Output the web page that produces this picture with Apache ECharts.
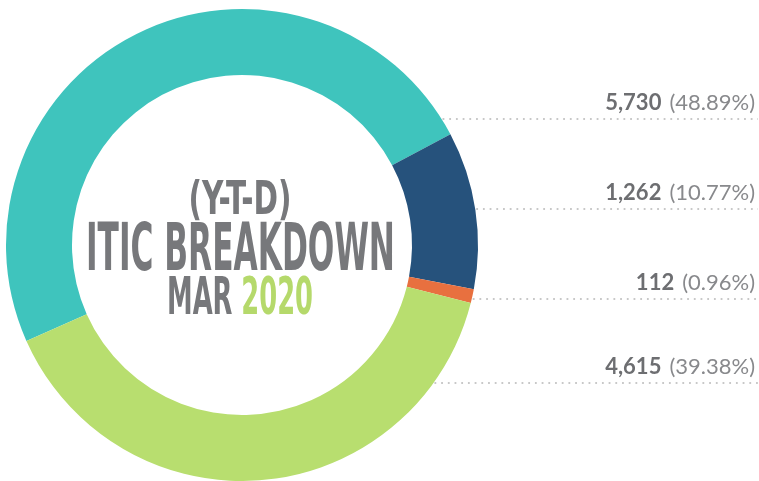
<!DOCTYPE html>
<html>
<head>
<meta charset="utf-8">
<script src="https://cdn.jsdelivr.net/npm/echarts@6/dist/echarts.min.js"></script>
<style>
    html, body {margin:0;padding:0;background:#fff}
    #chart {width:759px;height:481px}
</style>
</head>
<body>
<div id="chart"></div>
<script>
    // data
    var names = ['Teal', 'Blue', 'Orange', 'Green'];
    var values = [5730, 1262, 112, 4615];
    var colors = ['#3fc4bd', '#26527c', '#e8703f', '#b8de6f'];

    // where each label line sits (layout only)
    var lineY = [119, 209, 299, 383];

    var cx = 242, cy = 245, rIn = 170, rOut = 236;
    var grey = '#77787b';
    var condensed = '"Liberation Sans Narrow", "DejaVu Sans Condensed", "Liberation Sans", sans-serif';

    var ctx = document.createElement('canvas').getContext('2d');
    function fit(text, font, w) {
        ctx.font = font;
        return w / ctx.measureText(text).width;
    }

    var f1 = 'bold 46px ' + condensed,
        f2 = 'bold 65px ' + condensed,
        f3 = 'bold 51px ' + condensed;

    var chart = echarts.init(document.getElementById('chart'), null, {renderer: 'canvas'});

    var option = {
        animation: false,
        graphic: [
            {
                type: 'text', x: 240, y: 202, scaleX: fit('(Y-T-D)', f1, 103),
                style: {text: '(Y-T-D)', font: f1, fill: grey, align: 'center', verticalAlign: 'middle'}
            },
            {
                type: 'text', x: 240.5, y: 253, scaleX: fit('ITIC BREAKDOWN', f2, 309),
                style: {text: 'ITIC BREAKDOWN', font: f2, fill: grey, align: 'center', verticalAlign: 'middle'}
            },
            {
                type: 'text', x: 240, y: 301, scaleX: fit('MAR 2020', f3, 146),
                style: {
                    text: '{m|MAR} {y|2020}', font: f3, align: 'center', verticalAlign: 'middle',
                    rich: {
                        m: {font: f3, fill: grey},
                        y: {font: f3, fill: '#b5d96b'}
                    }
                }
            }
        ],
        series: [
            {
                type: 'pie',
                center: [cx, cy],
                radius: [rIn, rOut],
                startAngle: 204,
                clockwise: true,
                silent: true,
                avoidLabelOverlap: false,
                data: names.map(function (n, i) {
                    return {name: n, value: values[i], itemStyle: {color: colors[i]}};
                }),
                label: {
                    show: true,
                    position: 'outside',
                    formatter: function (p) {
                        return '{n|' + p.value.toLocaleString('en-US') + '}{p|(' + p.percent.toFixed(2) + '%)}';
                    },
                    rich: {
                        n: {fontFamily: 'Lato', fontSize: 22, fontWeight: 'bold', color: '#6d6e71'},
                        p: {fontFamily: 'Lato', fontSize: 22, fontWeight: 'normal', color: '#88898c', padding: [0, 0, 0, 8]}
                    }
                },
                labelLine: {
                    show: true,
                    lineStyle: {color: '#c8c8c8', width: 1.8, type: [1.8, 4.9]}
                },
                labelLayout: function (params) {
                    var y = lineY[params.dataIndex];
                    var dy = y - cy;
                    var x0 = cx + Math.sqrt(rOut * rOut - dy * dy) + 1;
                    return {
                        x: 755,
                        y: y - 5,
                        align: 'right',
                        verticalAlign: 'bottom',
                        labelLinePoints: [[x0, y], [x0 + 1, y], [758, y]]
                    };
                }
            }
        ]
    };
    chart.setOption(option);
</script>
</body>
</html>
